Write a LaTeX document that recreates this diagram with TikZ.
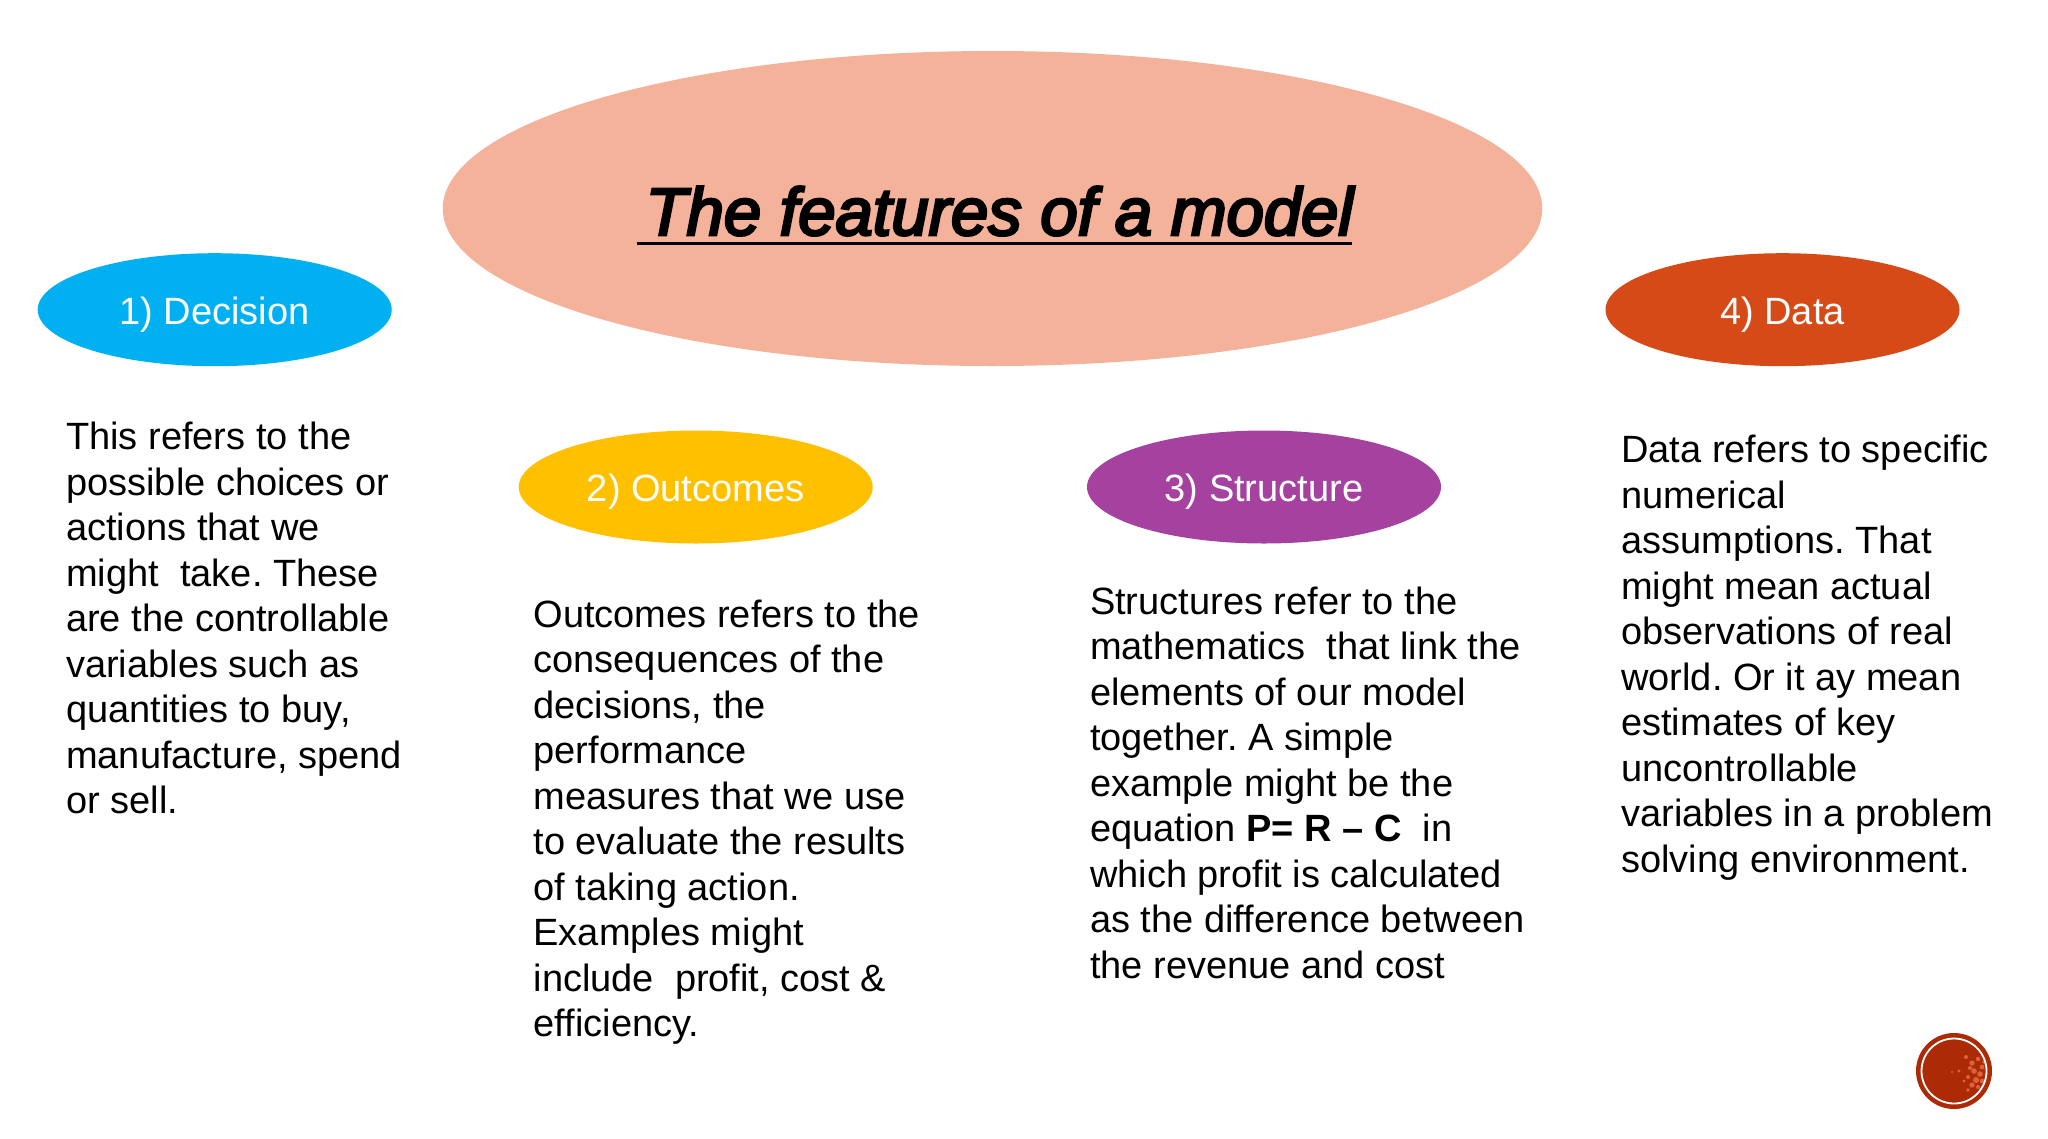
\documentclass[tikz,border=0pt]{standalone}
\usepackage{fontspec}
\setmainfont{Liberation Sans}
\newfontfamily\titlefont[ItalicFeatures={FakeBold=4}]{Liberation Sans}
\usetikzlibrary{shapes.geometric,calc}
\definecolor{bigc}{HTML}{F4B29B}
\definecolor{bluec}{HTML}{00B0F0}
\definecolor{yellowc}{HTML}{FFC000}
\definecolor{purplec}{HTML}{A5429F}
\definecolor{redc}{HTML}{D64A18}
\definecolor{badgec}{HTML}{AD2A06}
\definecolor{speck}{HTML}{E8704A}
\tikzset{
  tag/.style={ellipse,inner sep=0pt,minimum width=354pt,minimum height=113pt,text=white,text height=29pt,text depth=0pt,font=\fontsize{38}{45.5}\selectfont},
  body/.style={anchor=north west,inner sep=0pt,align=left,font=\fontsize{38}{45.5}\selectfont\frenchspacing,text=black},
}
\begin{document}
\begin{tikzpicture}[x=1pt,y=-1pt]
\useasboundingbox (0,0) rectangle (2048,1138);
\fill[white] (0,0) rectangle (2048,1138);
\node[ellipse,fill=bigc,inner sep=0pt,minimum width=1099.5pt,minimum height=315pt] (title) at (992.5,208.5) {};
\node[inner sep=0pt,anchor=base] (titletext) at (999.5,235) {\fontsize{67}{80}\selectfont\titlefont\itshape The features of a model};
\coordinate (ula) at (637,243.5);
\coordinate (ulb) at (1352,243.5);
\draw[line width=3.2pt,black] (ula) -- (ulb);
\node[tag,fill=bluec] (d1) at (214.7,309.7) {1) Decision};
\node[tag,fill=yellowc] (d2) at (695.7,487) {2) Outcomes};
\node[tag,fill=purplec] (d3) at (1264,487) {3) Structure};
\node[tag,fill=redc] (d4) at (1782.5,309.7) {4) Data};
\node[body] (t1) at (66,422) {This refers to the\\possible choices or\\actions that we\\might\ \ take. These\\are the controllable\\variables such as\\quantities to buy,\\manufacture, spend\\or sell.};
\node[body] (t2) at (533.4,599.4) {Outcomes refers to the\\consequences of the\\decisions, the\\performance\\measures that we use\\to evaluate the results\\of taking action.\\Examples might\\include\ \ profit, cost \&\\efficiency.};
\node[body] (t3) at (1089.8,586.4) {Structures refer to the\\mathematics\ \ that link the\\elements of our model\\together. A simple\\example might be the\\equation \textbf{P= R – C}\ \ in\\which profit is calculated\\as the difference between\\the revenue and cost};
\node[body] (t4) at (1621,435) {Data refers to specific\\numerical\\assumptions. That\\might mean actual\\observations of real\\world. Or it ay mean\\estimates of key\\uncontrollable\\variables in a problem\\solving environment.};
\node[circle,fill=badgec,inner sep=0pt,minimum size=76pt] (badge) at (1954,1071) {};
\foreach \dx/\dy/\r in {12/-14/2,18/-8/2.6,24/-12/2.2,28/-4/2.4,20/0/2.8,26/3/2.8,14/6/2,22/9/3,28/10/2.4,18/14/2.6,24/16/2,14/19/1.8,5/0/1.6,-2/1/1.2,30/-9/1.8,16/-3/2,10/10/1.6}
  \fill[speck,opacity=0.8] ($(badge.center)+(\dx,\dy)$) circle (\r);
\draw[white,line width=1.8pt] (badge.center) circle (32.5);
\end{tikzpicture}
\end{document}
